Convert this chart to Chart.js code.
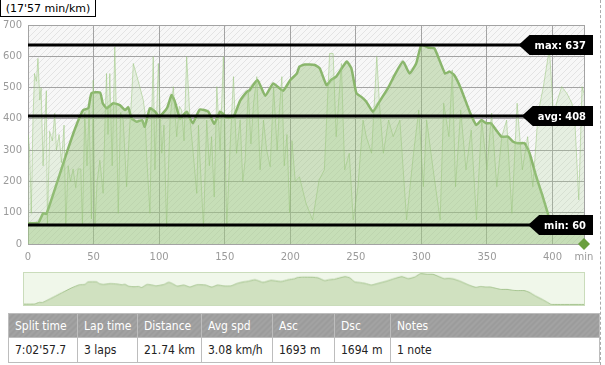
<!DOCTYPE html>
<html>
<head>
<meta charset="utf-8">
<script src="https://cdn.jsdelivr.net/npm/chart.js@4/dist/chart.umd.min.js"></script>
<style>
  body { margin: 0; background: #fff; width: 605px; height: 365px; overflow: hidden; position: relative; font-family: "DejaVu Sans", sans-serif; }
  #main { position: absolute; left: 0; top: 0; }
  #nav { position: absolute; left: 23px; top: 272px; border: 1px solid #cadcbb; box-sizing: border-box; }
  #title { position: absolute; left: 0; top: -2px; width: 94px; height: 17px; border: 1px solid #000; background: #fff;
           font: 11px "DejaVu Sans", sans-serif; line-height: 19px; text-align: center; color: #000; }
  #sep { position: absolute; left: 600px; top: 0; height: 365px; border-left: 1px dashed #aaa; }
  table { position: absolute; left: 8px; top: 313px; width: 592px; border-collapse: collapse; table-layout: fixed;
          font: 12px "DejaVu Sans Condensed", "DejaVu Sans", sans-serif; }
  th, td { white-space: nowrap; overflow: hidden; padding: 0 0 0 6px; text-align: left; border: 1px solid #bdbdbd; }
  th { height: 23px; font-weight: normal; color: #fff;
       background: repeating-linear-gradient(135deg, #a3a3a3 0 2px, #9b9b9b 2px 4px); }
  td { height: 24px; color: #222; background: #fff; }
</style>
</head>
<body>
<canvas id="main" width="605" height="270"></canvas>
<canvas id="nav" width="562" height="34"></canvas>
<div id="title">(17'57 min/km)</div>
<div id="sep"></div>
<table>
  <colgroup><col style="width:69px"><col style="width:60px"><col style="width:64px"><col style="width:71px"><col style="width:62px"><col style="width:56px"><col></colgroup>
  <tr><th>Split time</th><th>Lap time</th><th>Distance</th><th>Avg spd</th><th>Asc</th><th>Dsc</th><th>Notes</th></tr>
  <tr><td>7:02'57.7</td><td>3 laps</td><td>21.74 km</td><td>3.08 km/h</td><td>1693 m</td><td>1694 m</td><td>1 note</td></tr>
</table>
<script>
// smoothed altitude profile (minutes, metres)
const elevMin = [0,4,8,11.5,14,19,29,36,42,46,48.4,55,57,60,65,70,74,76.4,79,83,87,89,93,97,100,106,109.5,112,116,121,125.6,131,137.5,142,146.5,151.6,156.7,161.8,167,169,175,181,187,194.5,200,205,207,211,218.7,222.5,227.6,231,235,243,246.6,250.4,254,258,263,268,274.5,279.6,286,291,296,300,305,310,318,321.5,325,330,336.8,342,345.7,349.5,353,357,361,366,370,373.6,378.7,382.5,387.6,392.6,396.4,399,402,424];
const elevVal = [66,66,68,98,96,156,285,370,428,434,482,484,450,434,450,444,428,437,402,391,396,375,434,423,407,434,476,455,402,423,386,430,423,384,423,405,407,458,487,492,524,474,513,490,524,545,567,574,572,561,508,524,535,583,561,482,471,455,423,455,498,540,583,545,577,637,628,625,545,551,540,498,423,380,396,386,386,364,343,343,327,322,322,290,215,151,98,62,60,60];

// raw noisy series behind it
const paceMin = [0,1.3,2.5,3.8,5,6.4,7.6,9,10,11.5,12.7,14,14.8,16.5,18.6,20.4,21.7,23.7,25.5,27.5,28.8,30.6,32.4,34.4,36.4,38.2,40.3,41.5,43.3,45,46.6,48.4,49.7,51,52.7,54.8,57.3,58.9,59.9,61,62.4,64.2,66.2,67.5,68.8,70.6,72.6,75.2,77.2,79,80.3,82.8,85.4,87.9,89.2,90.4,93,94.3,95.5,96.8,98,99.4,102,103.7,105.7,108.3,110.8,113.4,115.4,117.2,119,121,123.6,126,128.7,130,131.2,133.8,136.3,138.3,140,142,144,146.5,149,151.6,154,156.7,159,161.8,163.8,165.6,168,170,172,174.5,177,179.6,182,184.7,187.3,190,191.6,193.6,195.4,197.5,199.5,201.3,203.8,
  207,212,217,222,226,230,232.7,235,239,241.5,245,248,251.6,255.5,258,262,266,268,271,275,278.5,283.6,288.7,294,298,301.5,304,309,314.3,317,321,323.6,326,330,334,338,342,346,350,353.5,357.5,361.3,365,369,373,377,381,385,389,393,397,398,401,403,407,411,414.8,417,420,422.5,424];
const paceVal = [350,300,98,400,545,520,593,460,500,250,380,490,60,360,330,418,300,350,260,380,60,250,200,240,180,240,240,60,420,250,430,80,524,55,200,268,162,420,545,350,545,250,630,400,98,420,396,183,350,470,577,540,500,460,420,290,98,400,599,237,400,577,290,380,55,396,503,343,440,428,330,599,396,290,162,380,268,55,396,250,343,150,503,300,599,55,300,535,290,396,200,268,492,320,450,535,237,396,300,247,503,300,420,535,250,350,100,330,200,
  215,130,77,205,237,609,609,343,577,237,290,77,183,396,343,290,599,450,290,396,343,396,77,290,428,183,396,237,77,450,343,556,183,428,237,364,77,396,237,418,183,343,396,98,450,237,343,183,418,503,609,599,396,450,503,481,450,396,141,503,481];

const refLabels = ['max', 'avg', 'min'];
const refValues = [637, 408, 60];

const xMax = 424;
const xTicks = [0, 50, 100, 150, 200, 250, 300, 350, 400, xMax];
const yTicks = [0, 100, 200, 300, 400, 500, 600, 700];

const pts = (xs, ys) => xs.map((x, i) => ({ x, y: ys[i] }));

function hatchPattern(ctx, bg, fg) {
  const p = document.createElement('canvas');
  p.width = p.height = 6;
  const c = p.getContext('2d');
  c.fillStyle = bg; c.fillRect(0, 0, 6, 6);
  c.strokeStyle = fg; c.lineWidth = 1;
  c.beginPath();
  c.moveTo(0, 6); c.lineTo(6, 0);
  c.moveTo(-1, 1); c.lineTo(1, -1);
  c.moveTo(5, 7); c.lineTo(7, 5);
  c.stroke();
  return ctx.createPattern(p, 'repeat');
}

const hatchBg = {
  id: 'hatchBg',
  beforeDraw(chart) {
    const { ctx, chartArea: a } = chart;
    ctx.save();
    ctx.fillStyle = hatchPattern(ctx, '#f7f7f7', '#e3e3e3');
    ctx.fillRect(a.left, a.top, a.right - a.left, a.bottom - a.top);
    ctx.restore();
  }
};

const refLines = {
  id: 'refLines',
  afterDatasetsDraw(chart) {
    const { ctx, chartArea: a, scales: { y } } = chart;
    ctx.save();
    ctx.font = 'bold 11px "DejaVu Sans Condensed", "DejaVu Sans", sans-serif';
    refValues.forEach((v, i) => {
      const py = Math.round(y.getPixelForValue(v));
      ctx.strokeStyle = '#000';
      ctx.lineWidth = 3;
      ctx.beginPath();
      ctx.moveTo(a.left, py);
      ctx.lineTo(a.right, py);
      ctx.stroke();

      const txt = refLabels[i] + ': ' + v;
      const w = ctx.measureText(txt).width;
      const right = a.right + 9;
      const body = right - w - 12;
      ctx.fillStyle = '#000';
      ctx.beginPath();
      ctx.moveTo(body - 11, py);
      ctx.lineTo(body, py - 10);
      ctx.lineTo(right, py - 10);
      ctx.lineTo(right, py + 10);
      ctx.lineTo(body, py + 10);
      ctx.closePath();
      ctx.fill();
      ctx.fillStyle = '#fff';
      ctx.textAlign = 'right';
      ctx.textBaseline = 'middle';
      ctx.fillText(txt, right - 7, py + 1);
    });
    ctx.restore();
  }
};

new Chart(document.getElementById('main'), {
  type: 'line',
  data: {
    datasets: [
      {
        data: [{ x: xMax, y: 0 }],
        showLine: false,
        pointStyle: 'rectRot',
        pointRadius: 6,
        pointBackgroundColor: '#6a9f3e',
        pointBorderWidth: 0,
        clip: false,
        order: 0
      },
      {
        data: pts(elevMin, elevVal),
        borderColor: '#8ab66c',
        borderWidth: 2.5,
        backgroundColor: 'rgba(150,192,118,0.42)',
        fill: 'origin',
        pointRadius: 0,
        tension: 0.15,
        order: 2
      },
      {
        data: pts(paceMin, paceVal),
        borderColor: 'rgba(150,196,120,0.5)',
        borderWidth: 1,
        backgroundColor: 'rgba(175,212,150,0.22)',
        fill: 'origin',
        pointRadius: 0,
        tension: 0,
        order: 1
      }
    ]
  },
  options: {
    responsive: false,
    animation: false,
    layout: { padding: { top: 25, right: 21, left: 0, bottom: 0 } },
    plugins: { legend: { display: false }, tooltip: { enabled: false } },
    scales: {
      x: {
        type: 'linear',
        min: 0,
        max: xMax,
        afterBuildTicks: s => { s.ticks = xTicks.map(v => ({ value: v })); },
        afterFit: s => { s.height = 26; },
        grid: { color: '#a3a3a3', drawTicks: false },
        border: { color: '#a3a3a3' },
        ticks: {
          autoSkip: false,
          maxRotation: 0,
          padding: 7,
          color: '#9a9a9a',
          font: { family: 'DejaVu Sans', size: 10 },
          callback: v => v === xMax ? 'min' : v
        }
      },
      y: {
        min: 0,
        max: 700,
        afterBuildTicks: s => { s.ticks = yTicks.map(v => ({ value: v })); },
        afterFit: s => { s.width = 28; },
        grid: { color: '#a3a3a3', drawTicks: false },
        border: { color: '#a3a3a3' },
        ticks: {
          padding: 6,
          color: '#9a9a9a',
          font: { family: 'DejaVu Sans', size: 10 }
        }
      }
    }
  },
  plugins: [hatchBg, refLines]
});

// overview strip under the chart
new Chart(document.getElementById('nav'), {
  type: 'line',
  data: {
    datasets: [{
      data: pts(elevMin, elevVal),
      borderColor: '#a3c38c',
      borderWidth: 1,
      backgroundColor: '#d0e1c0',
      fill: 'origin',
      pointRadius: 0,
      tension: 0.15
    }]
  },
  options: {
    responsive: false,
    animation: false,
    layout: { padding: 0 },
    plugins: { legend: { display: false }, tooltip: { enabled: false } },
    scales: {
      x: { type: 'linear', min: 0, max: xMax, display: false },
      y: { min: 50, max: 650, display: false }
    }
  },
  plugins: [{
    id: 'navBg',
    beforeDraw(chart) {
      const { ctx, chartArea: a } = chart;
      ctx.save();
      ctx.fillStyle = '#f0f7ea';
      ctx.fillRect(a.left, a.top, a.right - a.left, a.bottom - a.top);
      ctx.restore();
    }
  }]
});
</script>
</body>
</html>
